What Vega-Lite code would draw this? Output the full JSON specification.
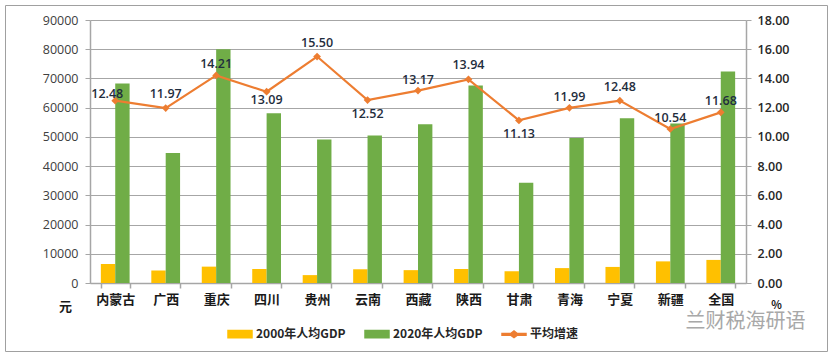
{
"$schema":"https://vega.github.io/schema/vega-lite/v6.json",
"width":822,"height":346,
"autosize":{"type":"none"},
"padding":{"left":5,"top":5,"right":4,"bottom":4},
"background":"white",
"view":{"stroke":"#a0a0a0","strokeWidth":1,"fill":"white"},
"config":{"font":"Noto Sans CJK SC"},
"datasets":{
"gdp":[
{"地区":"内蒙古","系列":"2000年人均GDP","值":6500},{"地区":"内蒙古","系列":"2020年人均GDP","值":68300},
{"地区":"广西","系列":"2000年人均GDP","值":4300},{"地区":"广西","系列":"2020年人均GDP","值":44500},
{"地区":"重庆","系列":"2000年人均GDP","值":5600},{"地区":"重庆","系列":"2020年人均GDP","值":80000},
{"地区":"四川","系列":"2000年人均GDP","值":4800},{"地区":"四川","系列":"2020年人均GDP","值":58100},
{"地区":"贵州","系列":"2000年人均GDP","值":2700},{"地区":"贵州","系列":"2020年人均GDP","值":49100},
{"地区":"云南","系列":"2000年人均GDP","值":4700},{"地区":"云南","系列":"2020年人均GDP","值":50500},
{"地区":"西藏","系列":"2000年人均GDP","值":4400},{"地区":"西藏","系列":"2020年人均GDP","值":54300},
{"地区":"陕西","系列":"2000年人均GDP","值":4800},{"地区":"陕西","系列":"2020年人均GDP","值":67600},
{"地区":"甘肃","系列":"2000年人均GDP","值":4000},{"地区":"甘肃","系列":"2020年人均GDP","值":34300},
{"地区":"青海","系列":"2000年人均GDP","值":5100},{"地区":"青海","系列":"2020年人均GDP","值":49600},
{"地区":"宁夏","系列":"2000年人均GDP","值":5500},{"地区":"宁夏","系列":"2020年人均GDP","值":56400},
{"地区":"新疆","系列":"2000年人均GDP","值":7400},{"地区":"新疆","系列":"2020年人均GDP","值":54600},
{"地区":"全国","系列":"2000年人均GDP","值":7900},{"地区":"全国","系列":"2020年人均GDP","值":72400}
],
"rate":[
{"地区":"内蒙古","增速":12.48},{"地区":"广西","增速":11.97},{"地区":"重庆","增速":14.21},{"地区":"四川","增速":13.09},
{"地区":"贵州","增速":15.50},{"地区":"云南","增速":12.52},{"地区":"西藏","增速":13.17},{"地区":"陕西","增速":13.94},
{"地区":"甘肃","增速":11.13},{"地区":"青海","增速":11.99},{"地区":"宁夏","增速":12.48},{"地区":"新疆","增速":10.54},{"地区":"全国","增速":11.68}
]},
"encoding":{"x":{"field":"地区","type":"nominal",
 "scale":{"domain":["内蒙古","广西","重庆","四川","贵州","云南","西藏","陕西","甘肃","青海","宁夏","新疆","全国"],"range":[85,741],"paddingInner":0.43,"paddingOuter":0.215},
 "axis":{"title":"兰财税海研语","titleX":740,"titleY":28,"titleFontSize":20,"titleFontWeight":"normal","titleColor":"#a8a8a8","titleAlign":"center","titleFont":"Noto Sans CJK SC",
  "offset":-68,"labelAngle":0,"labelFontSize":13,"labelFontWeight":"bold","labelColor":"#1a1a1a","labelPadding":5,"tickBand":"extent","tickColor":"#a6a6a6","tickSize":5,"tickWidth":1.5,"domainColor":"#a6a6a6","domainWidth":1.5,"grid":false}}},
"layer":[
{"data":{"name":"gdp"},"mark":{"type":"bar"},
 "encoding":{
  "xOffset":{"field":"系列","type":"nominal","scale":{"paddingInner":0,"paddingOuter":0}},
  "y":{"field":"值","type":"quantitative","scale":{"domain":[0,90000],"nice":false,"range":[278,15]},
   "axis":{"title":"元","titleX":-25,"titleY":308,"titleAngle":0,"titleFontSize":13,"titleFontWeight":"bold","titleColor":"#1a1a1a","offset":-85,"format":"d","values":[0,10000,20000,30000,40000,50000,60000,70000,80000,90000],"labelFontSize":12.5,"labelFont":"Open Sans","labelColor":"#404040","labelPadding":7,"tickColor":"#a6a6a6","tickSize":5,"tickWidth":1,"domainColor":"#a6a6a6","domainWidth":1.5,"grid":true,"gridColor":"#a6a6a6","gridWidth":1}},
  "color":{"field":"系列","type":"nominal","scale":{"domain":["2000年人均GDP","2020年人均GDP","平均增速"],"range":["#ffc000","#70ad47","#ed7d31"]},
   "legend":{"title":null,"orient":"none","legendX":222,"legendY":316,"direction":"horizontal","columns":3,"symbolSize":576,"labelFontSize":12,"labelFontWeight":"bold","labelColor":"#262626","labelOffset":3,"columnPadding":16,
    "encode":{"symbols":{"update":{"shape":{"signal":"datum.value==='平均增速'?'M-1,-.07H-.28L0,-.28L.28,-.07H1V.07H.28L0,.28L-.28,.07H-1Z':'M-1,-.3H1V.3H-1Z'"},"fill":{"scale":"color","field":"value"},"stroke":{"value":"transparent"},"opacity":{"value":1}}}}}}
 }},
{"data":{"name":"rate"},
 "encoding":{"y":{"field":"增速","type":"quantitative","scale":{"domain":[0,18],"nice":false,"range":[278,15]},
   "axis":{"title":"%","titleX":30,"titleY":305,"titleAngle":0,"titleFontSize":11,"titleFontWeight":"bold","titleColor":"#1a1a1a","orient":"right","offset":-81,"format":".2f","values":[0,2,4,6,8,10,12,14,16,18],"labelFontSize":12.5,"labelFont":"Open Sans","labelFontWeight":"600","labelColor":"#262626","labelPadding":6,"tickColor":"#a6a6a6","tickSize":5,"tickWidth":1,"domainColor":"#a6a6a6","domainWidth":1.5,"grid":false}}},
 "layer":[
 {"mark":{"type":"line","strokeWidth":2.2},"encoding":{"color":{"datum":"平均增速"}}},
 {"mark":{"type":"point","shape":"diamond","filled":true,"size":60,"opacity":1},"encoding":{"color":{"datum":"平均增速"}}},
 {"transform":[{"filter":{"field":"地区","oneOf":["重庆","西藏","青海","新疆","全国"]}}],"mark":{"type":"text","dy":-11,"fontSize":12.5,"font":"Open Sans","fontWeight":"600","fill":"#1f2d3d"},"encoding":{"text":{"field":"增速","format":".2f"}}},
 {"transform":[{"filter":{"field":"地区","oneOf":["广西","贵州","陕西","宁夏"]}}],"mark":{"type":"text","dy":-14,"fontSize":12.5,"font":"Open Sans","fontWeight":"600","fill":"#1f2d3d"},"encoding":{"text":{"field":"增速","format":".2f"}}},
 {"transform":[{"filter":{"field":"地区","oneOf":["内蒙古"]}}],"mark":{"type":"text","dy":-7,"dx":-8,"fontSize":12.5,"font":"Open Sans","fontWeight":"600","fill":"#1f2d3d"},"encoding":{"text":{"field":"增速","format":".2f"}}},
 {"transform":[{"filter":{"field":"地区","oneOf":["四川"]}}],"mark":{"type":"text","dy":8,"fontSize":12.5,"font":"Open Sans","fontWeight":"600","fill":"#1f2d3d"},"encoding":{"text":{"field":"增速","format":".2f"}}},
 {"transform":[{"filter":{"field":"地区","oneOf":["云南","甘肃"]}}],"mark":{"type":"text","dy":14,"fontSize":12.5,"font":"Open Sans","fontWeight":"600","fill":"#1f2d3d"},"encoding":{"text":{"field":"增速","format":".2f"}}}
 ]}
],
"resolve":{"scale":{"y":"independent"}}
}
